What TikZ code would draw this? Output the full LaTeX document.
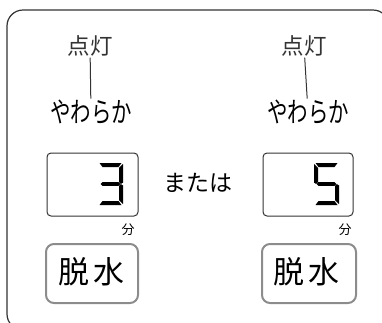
\documentclass[tikz,border=0pt]{standalone}
\usepackage{fontspec}
\newfontfamily\jp{Noto Sans CJK JP}
\definecolor{framegray}{HTML}{333333}
\definecolor{btngray}{HTML}{8C8C8C}
\newcommand\segtop{(1.5,0) -- (23.5,0) -- (20.5,4) -- (4.5,4) -- cycle}
\newcommand\segmid{(4.5,19.2) -- (20.5,19.2) -- (22.3,21) -- (20.5,22.8) -- (4.5,22.8) -- (2.7,21) -- cycle}
\newcommand\segbot{(4.5,38) -- (20.5,38) -- (23.5,42) -- (1.5,42) -- cycle}
\newcommand\segur{(21,4.8) -- (25,1) -- (25,19.6) -- (23,20.8) -- (21,19) -- cycle}
\newcommand\seglr{(21,23) -- (23,21.2) -- (25,22.4) -- (25,41) -- (21,37.2) -- cycle}
\newcommand\segul{(0,1) -- (4,4.8) -- (4,19) -- (2,20.8) -- (0,19.6) -- cycle}
\begin{document}
\begin{tikzpicture}[x=1pt,y=-1pt,
    lamp/.style={font=\jp\fontsize{22.5}{22.5}\selectfont,text=framegray,inner sep=1pt},
    mode/.style={font=\jp\fontsize{28}{28}\selectfont,inner sep=1pt},
    display/.style={draw=framegray,line width=1pt,rounded corners=4pt},
    button/.style={draw=btngray,line width=2pt,rounded corners=8pt},
    unit/.style={font=\jp\fontsize{13}{13}\selectfont,inner sep=0pt}]
  \clip (0,0) rectangle (382,322);
  \draw[framegray,line width=1.2pt,rounded corners=16pt] (7,10) rectangle (389,330);
  % top labels
  \draw
    (90,46) node[lamp] (lampL){点灯}
    (304,46) node[lamp] (lampR){点灯}
    (91,112) node[mode] (softL){\scalebox{.73}[1]{やわらか}}
    (308,112) node[mode] (softR){\scalebox{.73}[1]{やわらか}};
  \begin{scope}[framegray,line width=1pt]
    \draw (lampL) -- (softL);
    \draw (lampR) -- (softR);
  \end{scope}
  % displays
  \draw[display] (47,153) rectangle (138,216);
  \draw[display] (263,153) rectangle (353,216);
  \fill[black,shift={(98,163)}] \segtop \segur \segmid \seglr \segbot;
  \fill[black,shift={(314,163)}] \segtop \segul \segmid \seglr \segbot;
  \node[font=\jp\fontsize{23}{23}\selectfont] (or) at (198,183) {または};
  \node[unit] (minL) at (128,230) {分};
  \node[unit] (minR) at (345,230) {分};
  % buttons
  \draw[button] (46,244) rectangle (138,303);
  \draw[button] (262,244) rectangle (356,303);
  \node[font=\jp\fontsize{31}{31}\selectfont] (spinL) at (91,272) {脱\hspace{4pt}水};
  \node[font=\jp\fontsize{31}{31}\selectfont] (spinR) at (306,272) {脱\hspace{4pt}水};
\end{tikzpicture}
\end{document}
